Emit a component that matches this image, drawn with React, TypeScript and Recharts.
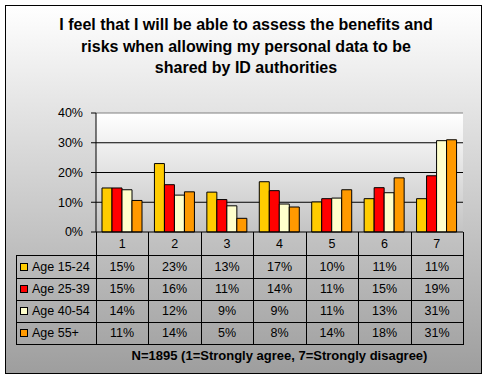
import React from 'react'
import { BarChart, Bar, XAxis, YAxis, CartesianGrid, ReferenceLine } from 'recharts'

// survey answers per age group, 1=strongly agree ... 7=strongly disagree (percent)
const categories = ['1', '2', '3', '4', '5', '6', '7']
const age1524 = [14.8, 23.0, 13.4, 16.9, 10.1, 11.2, 11.2]
const age2539 = [14.8, 15.9, 10.9, 13.9, 11.2, 14.9, 18.9]
const age4054 = [14.2, 12.4, 8.8, 9.4, 11.4, 13.2, 30.7]
const age55 = [10.6, 13.5, 4.6, 8.4, 14.2, 18.2, 31.0]
const yTicks = [0, 10, 20, 30, 40]

const titleLines = [
    'I feel that I will be able to assess the benefits and',
    'risks when allowing my personal data to be',
    'shared by ID authorities',
]
const footnote = 'N=1895 (1=Strongly agree, 7=Strongly disagree)'

const series = [
    { key: 'a1524', name: 'Age 15-24', color: '#FFCC00', values: age1524 },
    { key: 'a2539', name: 'Age 25-39', color: '#FF0000', values: age2539 },
    { key: 'a4054', name: 'Age 40-54', color: '#FFFFCC', values: age4054 },
    { key: 'a55', name: 'Age 55+', color: '#FF9900', values: age55 },
]

const data = categories.map((cat, i) => {
    const row: Record<string, string | number> = { cat }
    series.forEach((s) => {
        row[s.key] = s.values[i]
    })
    return row
})

// layout (page pixels)
const W = 491
const H = 378
const PLOT_L = 96
const PLOT_R = 463
const PLOT_T = 113
const PLOT_B = 232
const LEG_L = 16
const Y_AXIS_W = 40
const X_AXIS_H = 23
const ROW_Y = [232, 255, 278, 300, 322, 344]
const FONT = '"Liberation Sans", Arial, sans-serif'

const colW = (PLOT_R - PLOT_L) / categories.length
const colX = (i: number) => Math.round(PLOT_L + i * colW)

function Line({ x, y, w, h }: { x: number; y: number; w: number; h: number }) {
    return (
        <div
            style={{ position: 'absolute', left: x, top: y, width: w, height: h, background: '#000' }}
        />
    )
}

function DataTable() {
    const lines: React.ReactNode[] = []
    // horizontal rules below the category row
    ROW_Y.slice(1).forEach((y, i) => {
        lines.push(<Line key={`h${i}`} x={LEG_L} y={y} w={PLOT_R - LEG_L + 1} h={1} />)
    })
    for (let i = 1; i <= categories.length; i++) {
        lines.push(<Line key={`v${i}`} x={colX(i)} y={ROW_Y[0]} w={1} h={ROW_Y[5] - ROW_Y[0] + 1} />)
    }
    lines.push(<Line key="v0" x={PLOT_L} y={ROW_Y[0]} w={1} h={ROW_Y[5] - ROW_Y[0] + 1} />)
    lines.push(<Line key="vl" x={LEG_L} y={ROW_Y[1]} w={1} h={ROW_Y[5] - ROW_Y[1] + 1} />)

    const cells: React.ReactNode[] = []
    series.forEach((s, r) => {
        const top = ROW_Y[r + 1]
        const h = ROW_Y[r + 2] - top
        cells.push(
            <div
                key={`l${r}`}
                style={{
                    position: 'absolute',
                    left: LEG_L + 4,
                    top,
                    height: h,
                    display: 'flex',
                    alignItems: 'center',
                    gap: 4,
                    whiteSpace: 'nowrap',
                }}
            >
                <span
                    style={{
                        display: 'inline-block',
                        width: 6,
                        height: 6,
                        border: '1px solid #000',
                        background: s.color,
                        flexShrink: 0,
                    }}
                />
                <span>{s.name}</span>
            </div>
        )
        s.values.forEach((v, c) => {
            cells.push(
                <div
                    key={`c${r}-${c}`}
                    style={{
                        position: 'absolute',
                        left: colX(c),
                        top,
                        width: colX(c + 1) - colX(c),
                        height: h,
                        display: 'flex',
                        alignItems: 'center',
                        justifyContent: 'center',
                        whiteSpace: 'nowrap',
                    }}
                >
                    {`${Math.round(v)}%`}
                </div>
            )
        })
    })

    return (
        <div style={{ position: 'absolute', left: 0, top: 0, fontSize: 12.5, color: '#000' }}>
            {lines}
            {cells}
        </div>
    )
}

export default function App() {
    return (
        <div
            style={{
                position: 'absolute',
                left: 0,
                top: 0,
                width: W,
                height: H,
                background: '#fff',
                fontFamily: FONT,
            }}
        >
            <div
                style={{
                    position: 'absolute',
                    left: 5,
                    top: 5,
                    width: 477,
                    height: 369,
                    boxSizing: 'border-box',
                    border: '1px solid #000',
                    background: 'linear-gradient(to bottom, #ffffff 0%, #9e9e9e 100%)',
                }}
            />

            <div
                style={{
                    position: 'absolute',
                    left: 10,
                    top: 14,
                    width: 472,
                    textAlign: 'center',
                    fontSize: 16,
                    fontWeight: 'bold',
                    lineHeight: '21.5px',
                    color: '#000',
                }}
            >
                {titleLines.map((t) => (
                    <div key={t}>{t}</div>
                ))}
            </div>

            <div style={{ position: 'absolute', left: 0, top: 0 }}>
                <BarChart
                    width={W}
                    height={H}
                    data={data}
                    margin={{
                        top: PLOT_T,
                        right: W - PLOT_R,
                        left: PLOT_L - Y_AXIS_W,
                        bottom: H - PLOT_B - X_AXIS_H,
                    }}
                    barCategoryGap={6}
                    barGap={0}
                >
                    <defs>
                        <linearGradient id="plotBg" x1="0" y1="0" x2="0" y2="1">
                            <stop offset="0%" stopColor="#ffffff" />
                            <stop offset="100%" stopColor="#c4c4c4" />
                        </linearGradient>
                    </defs>
                    <CartesianGrid
                        vertical={false}
                        stroke="#000"
                        fill="url(#plotBg)"
                        fillOpacity={1}
                        horizontalValues={[10, 20, 30]}
                    />
                    <ReferenceLine y={40} stroke="#808080" />
                    <XAxis
                        dataKey="cat"
                        interval={0}
                        height={X_AXIS_H}
                        tickLine={false}
                        tickSize={0}
                        tickMargin={7}
                        axisLine={{ stroke: '#000' }}
                        tick={{ fill: '#000', fontSize: 12.5, fontFamily: FONT }}
                    />
                    <YAxis
                        width={Y_AXIS_W}
                        domain={[0, 40]}
                        ticks={yTicks}
                        tickFormatter={(v: number) => `${v}%`}
                        tickSize={5}
                        tickMargin={8}
                        axisLine={{ stroke: '#000' }}
                        tickLine={{ stroke: '#000' }}
                        tick={{ fill: '#000', fontSize: 12.5, fontFamily: FONT }}
                    />
                    <YAxis
                        yAxisId="frame"
                        orientation="right"
                        width={0}
                        domain={[0, 40]}
                        tick={false}
                        tickLine={false}
                        axisLine={{ stroke: '#808080' }}
                    />
                    {series.map((s) => (
                        <Bar
                            key={s.key}
                            dataKey={s.key}
                            name={s.name}
                            fill={s.color}
                            stroke="#000"
                            strokeWidth={1}
                            isAnimationActive={false}
                        />
                    ))}
                </BarChart>
            </div>

            <DataTable />

            <div
                style={{
                    position: 'absolute',
                    left: PLOT_L,
                    top: 348,
                    width: PLOT_R - PLOT_L,
                    textAlign: 'center',
                    fontSize: 13,
                    fontWeight: 'bold',
                    lineHeight: '16px',
                    color: '#000',
                }}
            >
                {footnote}
            </div>
        </div>
    )
}
